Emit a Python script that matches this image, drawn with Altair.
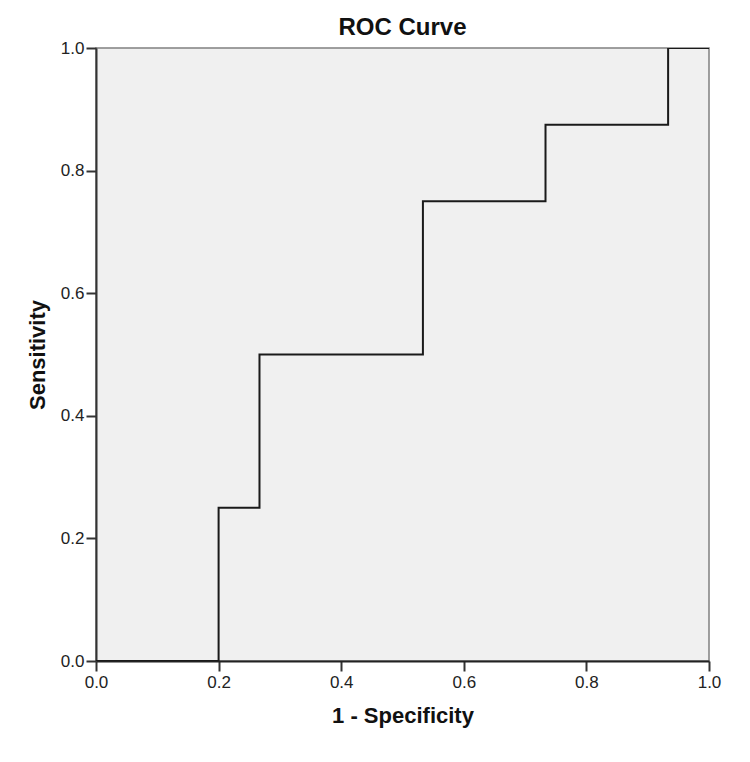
import altair as alt
import pandas as pd

fpr = [0.0, 0.2, 0.2, 0.2667, 0.2667, 0.5333, 0.5333, 0.7333, 0.7333, 0.9333, 0.9333, 1.0]
tpr = [0.0, 0.0, 0.25, 0.25, 0.5, 0.5, 0.75, 0.75, 0.875, 0.875, 1.0, 1.0]
ticks = [0.0, 0.2, 0.4, 0.6, 0.8, 1.0]

df = pd.DataFrame({"fpr": fpr, "tpr": tpr, "order": list(range(len(fpr)))})

font = "Liberation Sans"

chart = (
    alt.Chart(df)
    .mark_line(color="#1a1a1a", strokeWidth=2, clip=True)
    .encode(
        x=alt.X(
            "fpr:Q",
            scale=alt.Scale(domain=[0, 1], nice=False, zero=False),
            axis=alt.Axis(
                title="1 - Specificity",
                values=ticks,
                format=".1f",
                grid=False,
                labelFlush=False,
                tickSize=10,
                tickWidth=2,
                tickColor="#333333",
                domainColor="#222222",
                domainWidth=2,
                labelFont=font,
                labelFontSize=17,
                labelColor="#222222",
                labelPadding=3,
                titleFont=font,
                titleFontSize=22,
                titleFontWeight="bold",
                titleColor="#111111",
                titlePadding=15,
            ),
        ),
        y=alt.Y(
            "tpr:Q",
            scale=alt.Scale(domain=[0, 1], nice=False, zero=False),
            axis=alt.Axis(
                title="Sensitivity",
                values=ticks,
                format=".1f",
                grid=False,
                labelFlush=False,
                tickSize=10,
                tickWidth=2,
                tickColor="#333333",
                domainColor="#333333",
                domainWidth=2,
                labelFont=font,
                labelFontSize=17,
                labelColor="#222222",
                labelPadding=2,
                titleFont=font,
                titleFontSize=22,
                titleFontWeight="bold",
                titleColor="#111111",
                titlePadding=11,
            ),
        ),
        order="order:Q",
    )
    .properties(
        width=613,
        height=613,
        title=alt.TitleParams(
            "ROC Curve",
            font=font,
            fontSize=24,
            fontWeight="bold",
            color="#111111",
            anchor="middle",
            offset=-1,
        ),
        autosize=alt.AutoSizeParams(type="none"),
        padding={"left": 88, "top": 40, "right": 33, "bottom": 90},
    )
    .configure_view(fill="#f0f0f0", stroke="#808080", strokeWidth=1.5)
)

chart.save("out.html", embed_options={"renderer": "svg", "actions": False})
